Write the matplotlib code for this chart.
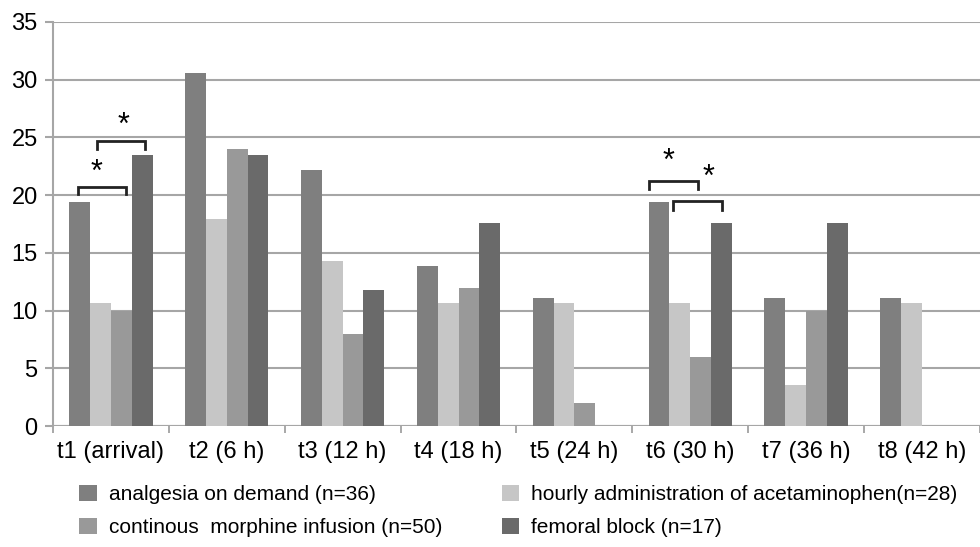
import matplotlib
matplotlib.use("Agg")
import matplotlib.pyplot as plt
import numpy as np

plt.rcParams['font.family'] = ['Liberation Sans', 'DejaVu Sans']

timepoints = ['t1 (arrival)', 't2 (6 h)', 't3 (12 h)', 't4 (18 h)',
              't5 (24 h)', 't6 (30 h)', 't7 (36 h)', 't8 (42 h)']
on_demand = [19.4, 30.6, 22.2, 13.9, 11.1, 19.4, 11.1, 11.1]
acetaminophen = [10.7, 17.9, 14.3, 10.7, 10.7, 10.7, 3.6, 10.7]
morphine = [10.0, 24.0, 8.0, 12.0, 2.0, 6.0, 10.0, 0.0]
femoral = [23.5, 23.5, 11.8, 17.6, 0.0, 17.6, 17.6, 0.0]

series = [
    ('analgesia on demand (n=36)', on_demand, '#7f7f7f'),
    ('hourly administration of acetaminophen(n=28)', acetaminophen, '#c6c6c6'),
    ('continous  morphine infusion (n=50)', morphine, '#999999'),
    ('femoral block (n=17)', femoral, '#6a6a6a'),
]

fig = plt.figure(figsize=(9.8, 5.47), dpi=100)
ax = fig.add_axes([0.054, 0.221, 0.946, 0.739])

x = np.arange(len(timepoints))
w = 0.18
for k, (name, vals, col) in enumerate(series):
    ax.bar(x + (k - 1.5) * w, vals, w, color=col, label=name, zorder=3)

ax.set_xlim(-0.5, len(timepoints) - 0.5)
ax.set_ylim(0, 35)
ax.set_yticks(range(0, 36, 5))
ax.yaxis.grid(True, color='#a6a6a6', linewidth=1.5, zorder=0)
ax.set_axisbelow(True)
for s in ['top', 'right', 'bottom']:
    ax.spines[s].set_visible(False)
ax.spines['left'].set_color('#a6a6a6')
ax.spines['left'].set_linewidth(1.5)
ax.axhline(0, color='#a6a6a6', linewidth=1.5, zorder=2)

ax.set_xticks(x)
ax.set_xticklabels(timepoints, fontsize=17)
ax.set_xticks(np.arange(-0.5, len(timepoints), 1), minor=True)
ax.tick_params(axis='x', which='major', length=0, pad=11)
ax.tick_params(axis='x', which='minor', length=5, color='#999999', width=1.2)
ax.tick_params(axis='y', length=6, color='#a6a6a6', width=1.5, labelsize=17, pad=5)


def bracket(x0, x1, y, drop, star_x, star_y):
    ax.plot([x0, x0, x1, x1], [y - drop, y, y, y - drop], color='#222222',
            linewidth=2, zorder=4, solid_joinstyle='miter')
    ax.text(star_x, star_y, '*', ha='center', va='center', fontsize=22, zorder=4)


bracket(-0.284, 0.129, 20.7, 0.6, -0.12, 21.9)
bracket(-0.12, 0.293, 24.7, 0.7, 0.11, 26.0)
bracket(5 - 0.353, 5 + 0.069, 21.2, 0.7, 5 - 0.19, 22.9)
bracket(5 - 0.147, 5 + 0.276, 19.5, 0.8, 5 + 0.155, 21.5)

handles, labels = ax.get_legend_handles_labels()
left_col = [0, 2]
right_col = [1, 3]
leg_kw = dict(loc='lower left', frameon=False, fontsize=15, handlelength=0.85,
              handleheight=0.85, labelspacing=0.65, handletextpad=0.55,
              borderaxespad=0, borderpad=0)
fig.legend([handles[i] for i in left_col], [labels[i] for i in left_col],
           bbox_to_anchor=(0.081, 0.018), **leg_kw)
fig.legend([handles[i] for i in right_col], [labels[i] for i in right_col],
           bbox_to_anchor=(0.512, 0.018), **leg_kw)

fig.savefig('out.png', dpi=100)
